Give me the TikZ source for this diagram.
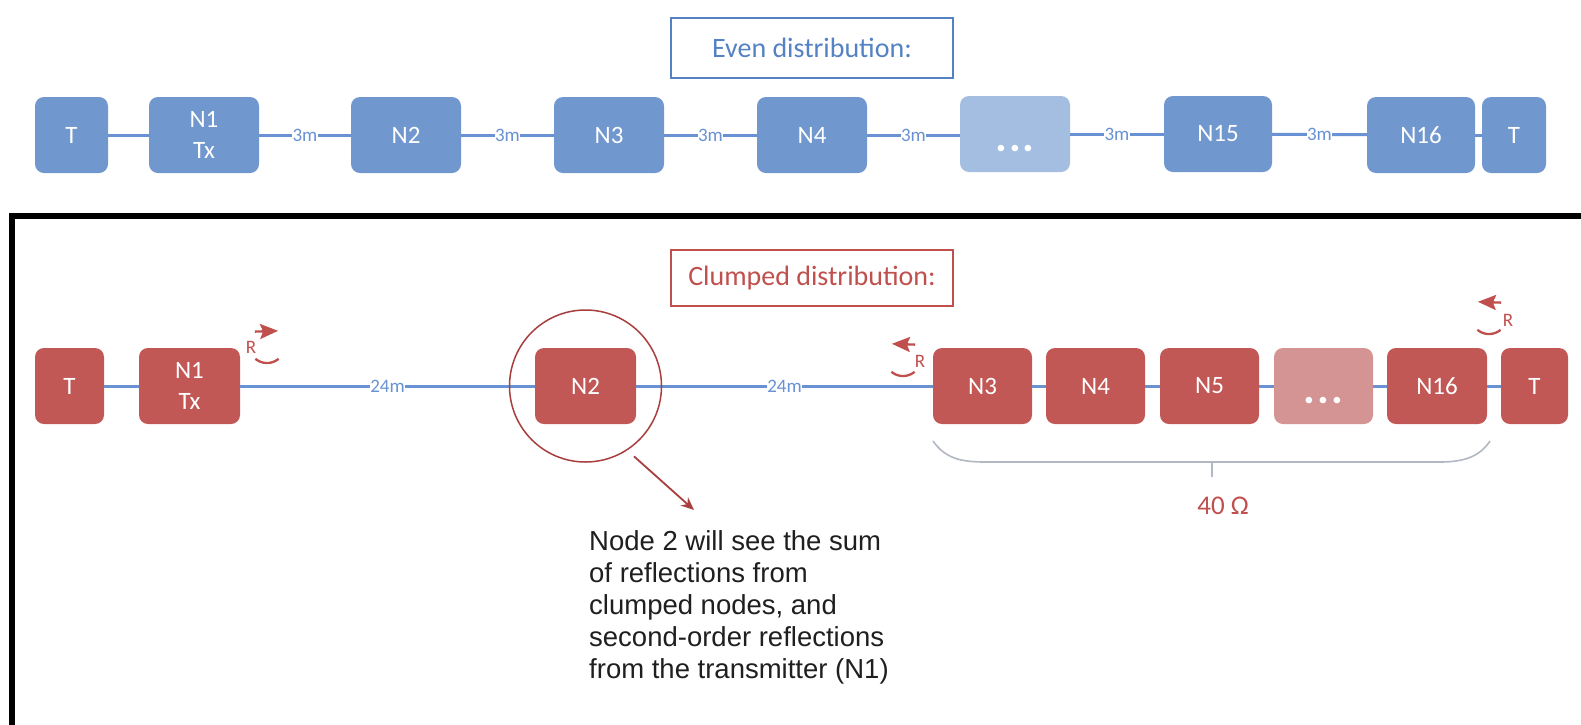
\documentclass[tikz,border=0pt]{standalone}
\usepackage{fontspec}
\setmainfont{Carlito}
\newfontfamily\notefont{Liberation Sans}
\usetikzlibrary{arrows.meta,calc}
\definecolor{boxblue}{RGB}{112,151,206}
\definecolor{boxbluelight}{RGB}{164,190,226}
\definecolor{lineblue}{RGB}{104,146,212}
\definecolor{txtblue}{RGB}{84,130,196}
\definecolor{boxred}{RGB}{194,88,86}
\definecolor{boxredlight}{RGB}{212,148,147}
\definecolor{txtred}{RGB}{192,80,77}
\definecolor{ringred}{RGB}{168,62,62}
\definecolor{bracegray}{RGB}{178,184,194}
\newcommand\reflcurl[4]{%
  \draw[curl] plot[domain=50:130,samples=20] ({#1+18*cos(\x)},{#2+18*sin(\x)});
  \draw[curl,-{Stealth[length=18pt,width=15pt,inset=3pt]}]
    ({#1+18*cos(#3)},{#2+18*sin(#3)}) -- ({#1+18*cos(#4)},{#2+18*sin(#4)});
}
\begin{document}
\begin{tikzpicture}[x=1pt,y=-1pt,
  nodebox/.style={rounded corners=9pt, text=white, font=\fontsize{25}{31}\selectfont,
    minimum height=76pt, inner sep=0pt, align=center},
  bluebox/.style={nodebox, fill=boxblue},
  redbox/.style={nodebox, fill=boxred},
  dotsbox/.style={font=\fontsize{44}{44}\bfseries, text height=34pt, text depth=0pt},
  wire/.style={draw=lineblue, line width=3pt},
  dist/.style={fill=white, inner sep=0.5pt, text=lineblue, font=\fontsize{19}{19}\selectfont},
  titlebox/.style={line width=1.8pt, minimum width=282pt, inner sep=0pt,
    font=\fontsize{28}{28}\selectfont},
  curl/.style={draw=txtred, line width=2.3pt, fill=none},
  rlab/.style={text=txtred, inner sep=0pt, font=\fontsize{19}{19}\selectfont},
]
\useasboundingbox (0,0) rectangle (1581,724);
\clip (0,0) rectangle (1581,724);
\fill[white] (0,0) rectangle (1581,724);

% ---------- Even distribution ----------
\node[titlebox, draw=txtblue, text=txtblue, minimum height=60pt] (even) at (812,48) {Even distribution:};

\node[bluebox, minimum width=73pt] (eT1) at (71.5,135) {T};
\node[bluebox, minimum width=110pt] (eN1) at (204,135) {N1\\Tx};
\node[bluebox, minimum width=110pt] (eN2) at (406,135) {N2};
\node[bluebox, minimum width=110pt] (eN3) at (609,135) {N3};
\node[bluebox, minimum width=110pt] (eN4) at (812,135) {N4};
\node[bluebox, dotsbox, fill=boxbluelight, minimum width=110pt] (eD) at (1015,134) {.\kern2pt.\kern2pt.};
\node[bluebox, minimum width=108pt] (eN15) at (1218,134) {N15};
\node[bluebox, minimum width=108pt] (eN16) at (1421,135) {N16};
\node[bluebox, minimum width=64pt] (eT2) at (1514,135) {T};

\draw[wire] (eT1) -- (eN1);
\draw[wire] (eN1) -- node[dist]{3m} (eN2);
\draw[wire] (eN2) -- node[dist]{3m} (eN3);
\draw[wire] (eN3) -- node[dist]{3m} (eN4);
\draw[wire] (eN4.east) -- node[dist]{3m} (eN4.east -| eD.west);
\draw[wire] (eD.east |- eN15.west) -- node[dist]{3m} (eN15.west);
\draw[wire] (eN15) -- node[dist]{3m} (eN16);
\draw[wire] (eN16) -- (eT2);

% ---------- frame ----------
\draw[line width=6pt] (12,800) -- (12,216) -- (1650,216);

% ---------- Clumped distribution ----------
\node[titlebox, draw=txtred, text=txtred, minimum height=56pt] (clump) at (812,278) {Clumped distribution:};

\node[redbox, minimum width=69pt] (cT1) at (69.5,386) {T};
\node[redbox, minimum width=101pt] (cN1) at (189.5,386) {N1\\Tx};
\node[redbox, minimum width=101pt] (cN2) at (585.5,386) {N2};
\node[redbox, minimum width=99pt] (cN3) at (982.5,386) {N3};
\node[redbox, minimum width=99pt] (cN4) at (1095.5,386) {N4};
\node[redbox, minimum width=99pt] (cN5) at (1209.5,386) {N5};
\node[redbox, dotsbox, fill=boxredlight, minimum width=99pt] (cD) at (1323.5,386) {.\kern2pt.\kern2pt.};
\node[redbox, minimum width=100pt] (cN16) at (1437,386) {N16};
\node[redbox, minimum width=67pt] (cT2) at (1534.5,386) {T};

\draw[wire] (cT1) -- (cN1);
\draw[wire] (cN1) -- node[dist]{24m} (cN2);
\draw[wire] (cN2) -- node[dist]{24m} (cN3);
\draw[wire] (cN3) -- (cN4);
\draw[wire] (cN4) -- (cN5);
\draw[wire] (cN5) -- (cD);
\draw[wire] (cD) -- (cN16);
\draw[wire] (cN16) -- (cT2);

% reflection curls
\reflcurl{267}{345}{228}{308}
\node[rlab] (r1) at (251,347) {R};
\reflcurl{903}{358}{312}{232}
\node[rlab] (r2) at (920,361) {R};
\reflcurl{1489}{316}{312}{232}
\node[rlab] (r3) at (1508,320) {R};

% ring around N2 and pointer
\node[draw=ringred, line width=1.5pt, circle, minimum size=152pt, inner sep=0pt] (ring) at (cN2) {};
\coordinate (atip) at (694,510);
\draw[draw=ringred, line width=1.8pt, -{Stealth[length=13pt,width=11pt]}, shorten <=9pt] (ring.-57) -- (atip);

% brace under clumped nodes
\draw[bracegray, line width=1.6pt] (933,441) .. controls (945,458) and (960,462) .. (985,462)
  -- (1440,462) .. controls (1465,462) and (1480,456) .. (1490,441);
\coordinate (bmid) at (1212,462);
\coordinate (bend) at (1212,477);
\draw[bracegray, line width=1.6pt] (bmid) -- (bend);
\node[text=txtred, inner sep=0pt, font=\fontsize{27}{27}\selectfont] (ohm) at (1223,506) {40 Ω};

% note
\node[anchor=north west, align=left, inner sep=0pt, text=black!88,
  font=\notefont\fontsize{27.5}{32}\selectfont] (note) at (589,530)
  {Node 2 will see the sum\\of reflections from\\clumped nodes, and\\second-order reflections\\from the transmitter (N1)};
\end{tikzpicture}
\end{document}
